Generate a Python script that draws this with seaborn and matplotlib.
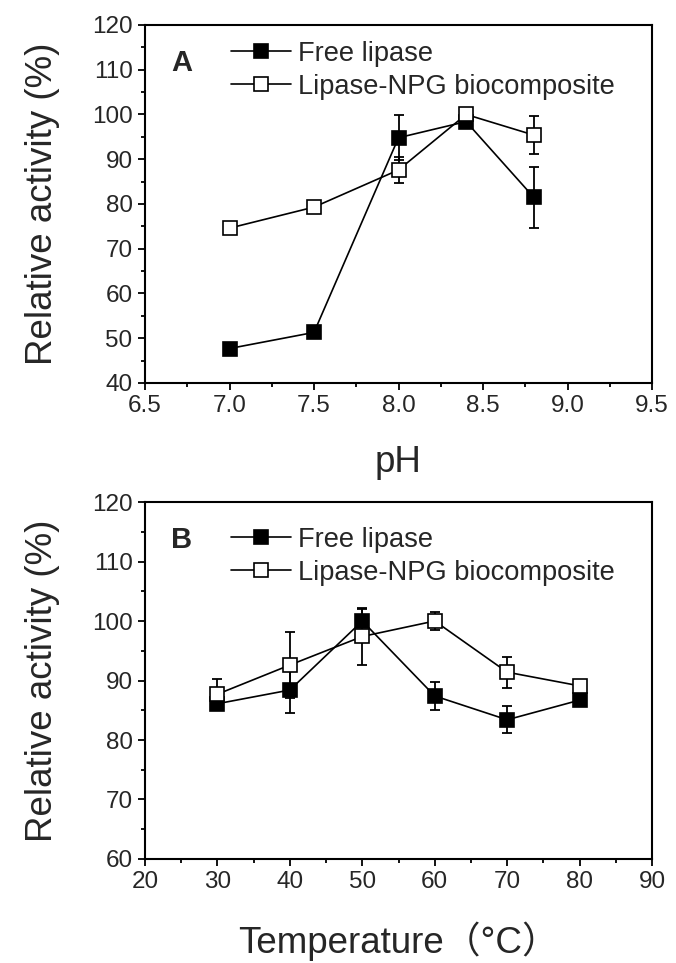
import numpy as np
import pandas as pd
import matplotlib
matplotlib.use("Agg")
import matplotlib.pyplot as plt
from matplotlib.ticker import MultipleLocator, FormatStrFormatter
import seaborn as sns


OUTPUT_PATH = "out.png"

# panel A: pH
PH = [7.0, 7.5, 8.0, 8.4, 8.8]
PH_FREE = [47.7, 51.3, 94.8, 98.4, 81.5]
PH_FREE_ERR = [0.8, 0.8, 5.0, 1.0, 6.8]
PH_NPG = [74.6, 79.3, 87.6, 100.0, 95.4]
PH_NPG_ERR = [1.2, 1.2, 3.0, 0.5, 4.3]

# panel B: temperature
TEMP = [30, 40, 50, 60, 70, 80]
TEMP_FREE = [86.1, 88.4, 100.0, 87.4, 83.4, 86.7]
TEMP_FREE_ERR = [1.0, 3.8, 2.0, 2.4, 2.3, 1.0]
TEMP_NPG = [87.7, 92.6, 97.4, 100.0, 91.4, 89.1]
TEMP_NPG_ERR = [2.6, 5.6, 4.8, 1.5, 2.6, 1.0]

SERIES_NAMES = ["Free lipase", "Lipase-NPG biocomposite"]


def draw_panel(ax, x, free, free_err, npg, npg_err, letter, legend_top):
    df = pd.DataFrame({"x": x, "free": free, "npg": npg})

    ax.errorbar(x, free, yerr=free_err, fmt="none", ecolor="black",
                elinewidth=1.3, capsize=3.6, capthick=1.3, zorder=2)
    ax.errorbar(x, npg, yerr=npg_err, fmt="none", ecolor="black",
                elinewidth=1.3, capsize=3.6, capthick=1.3, zorder=2)

    sns.lineplot(data=df, x="x", y="free", ax=ax, color="black",
                 linewidth=1.2, marker="s", markersize=9.5,
                 markerfacecolor="black", markeredgecolor="black",
                 markeredgewidth=1.2, label=SERIES_NAMES[0], zorder=3)
    sns.lineplot(data=df, x="x", y="npg", ax=ax, color="black",
                 linewidth=1.2, marker="s", markersize=9.5,
                 markerfacecolor="white", markeredgecolor="black",
                 markeredgewidth=1.2, label=SERIES_NAMES[1], zorder=4)

    ax.legend(loc="upper left", bbox_to_anchor=(0.165, legend_top), frameon=False,
              fontsize=19.6, handlelength=2.2, handletextpad=0.25,
              labelspacing=0.25, borderpad=0.1, borderaxespad=0)

    ax.text(0.073, 0.893, letter, transform=ax.transAxes, fontsize=21,
            fontweight="bold", ha="center", va="center")

    for side in ["top", "right", "left", "bottom"]:
        ax.spines[side].set_visible(True)
        ax.spines[side].set_linewidth(1.5)
        ax.spines[side].set_color("black")

    ax.tick_params(axis="both", which="major", direction="out", length=5,
                   width=1.3, labelsize=17.5, color="black", pad=4)
    ax.tick_params(axis="both", which="minor", direction="out", length=3,
                   width=1.3, color="black")
    ax.tick_params(top=False, right=False, which="both")


def main():
    sns.set_theme(style="ticks")
    plt.rcParams["font.family"] = ["Liberation Sans", "Noto Sans CJK SC", "DejaVu Sans"]

    fig = plt.figure(figsize=(6.76, 9.63), dpi=100)
    ax_a = fig.add_axes([0.2145, 0.6023, 0.75, 0.3718])
    ax_b = fig.add_axes([0.2145, 0.108, 0.75, 0.3707])

    draw_panel(ax_a, PH, PH_FREE, PH_FREE_ERR, PH_NPG, PH_NPG_ERR, "A", 0.963)
    ax_a.set_xlim(6.5, 9.5)
    ax_a.set_ylim(40, 120)
    ax_a.xaxis.set_major_locator(MultipleLocator(0.5))
    ax_a.xaxis.set_minor_locator(MultipleLocator(0.25))
    ax_a.xaxis.set_major_formatter(FormatStrFormatter("%.1f"))
    ax_a.yaxis.set_major_locator(MultipleLocator(10))
    ax_a.yaxis.set_minor_locator(MultipleLocator(5))
    ax_a.set_xlabel("pH", fontsize=26.5, labelpad=20)
    ax_a.set_ylabel("Relative activity (%)", fontsize=26.5, labelpad=23)

    draw_panel(ax_b, TEMP, TEMP_FREE, TEMP_FREE_ERR, TEMP_NPG, TEMP_NPG_ERR, "B", 0.938)
    ax_b.set_xlim(20, 90)
    ax_b.set_ylim(60, 120)
    ax_b.xaxis.set_major_locator(MultipleLocator(10))
    ax_b.xaxis.set_minor_locator(MultipleLocator(5))
    ax_b.yaxis.set_major_locator(MultipleLocator(10))
    ax_b.yaxis.set_minor_locator(MultipleLocator(5))
    ax_b.set_xlabel("Temperature（°C）", fontsize=26.5, labelpad=20)
    ax_b.set_ylabel("Relative activity (%)", fontsize=26.5, labelpad=23)

    fig.savefig(OUTPUT_PATH, dpi=100)
    plt.close(fig)


if __name__ == "__main__":
    main()
